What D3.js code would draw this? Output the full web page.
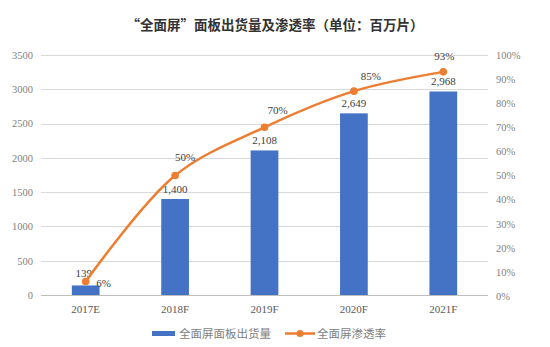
<!DOCTYPE html>
<html><head><meta charset="utf-8">
<script src="https://cdn.jsdelivr.net/npm/d3@7"></script>
<style>body{margin:0;background:#fff;}</style>
</head><body>
<svg id="c" width="550" height="347"></svg>
<script>
const categories = ["2017E","2018F","2019F","2020F","2021F"];
const shipments = [139, 1400, 2108, 2649, 2968];
const penetration = [0.06, 0.50, 0.70, 0.85, 0.93];
const leftTicks = [0,500,1000,1500,2000,2500,3000,3500];
const rightTicks = [0,0.1,0.2,0.3,0.4,0.5,0.6,0.7,0.8,0.9,1.0];
const title = "“全面屏”面板出货量及渗透率（单位：百万片）";
const seriesNames = ["全面屏面板出货量","全面屏渗透率"];

const svg = d3.select("#c");
const serif = "'Liberation Serif','Times New Roman',serif";
const cjk = "'Noto Sans CJK SC',sans-serif";
const m = {l:41, r:488, t:55, b:295};
const x = d3.scaleBand().domain(categories).range([m.l, m.r]).paddingInner(0.69).paddingOuter(0.345);
const y = d3.scaleLinear().domain([0,3500]).range([m.b, m.t]);
const y2 = d3.scaleLinear().domain([0,1]).range([m.b+1, m.t]);

svg.append("text").attr("x",275).attr("y",30).attr("text-anchor","middle")
  .attr("font-family",cjk).attr("font-weight","bold").attr("font-size",13.5).attr("fill","#333")
  .text(title);

// gridlines
svg.append("g").selectAll("line").data(leftTicks).join("line")
  .attr("x1",m.l).attr("x2",m.r).attr("y1",d=>Math.round(y(d))+0.5).attr("y2",d=>Math.round(y(d))+0.5)
  .attr("stroke",d=>d===0?"#bfbfbf":"#d9d9d9").attr("stroke-width",1);

// left axis
const la = svg.append("g").attr("transform",`translate(${m.l-8},0)`)
  .call(d3.axisLeft(y).tickValues(leftTicks).tickSize(0).tickPadding(0).tickFormat(d3.format("d")));
la.select(".domain").remove();
la.selectAll("text").attr("font-family",serif).attr("font-size",10.5).attr("fill","#7f7f7f");

// right axis
const ra = svg.append("g").attr("transform",`translate(${m.r+8},0)`)
  .call(d3.axisRight(y2).tickValues(rightTicks).tickSize(0).tickPadding(0).tickFormat(d3.format(".0%")));
ra.select(".domain").remove();
ra.selectAll("text").attr("font-family",serif).attr("font-size",10.5).attr("fill","#7f7f7f");

// bottom axis
const ba = svg.append("g").attr("transform",`translate(0,${m.b})`)
  .call(d3.axisBottom(x).tickSize(0).tickPadding(10));
ba.select(".domain").remove();
ba.selectAll("text").attr("font-family",serif).attr("font-size",11).attr("fill","#595959");

// bars
svg.append("g").selectAll("rect").data(shipments).join("rect")
  .attr("x",(d,i)=>x(categories[i])).attr("width",x.bandwidth())
  .attr("y",d=>y(d)).attr("height",d=>y(0)-y(d)).attr("fill","#4472C4");

// bar labels
const fmt = d3.format(",");
svg.append("g").selectAll("text").data(shipments).join("text")
  .attr("x",(d,i)=>x(categories[i])+x.bandwidth()/2 - (i===0?2:0))
  .attr("y",(d,i)=>y(d)-(i===0?8:6)).attr("text-anchor","middle")
  .attr("font-family",serif).attr("font-size",11).attr("fill","#404040")
  .text(d=>fmt(d));

// line
const cx = i => x(categories[i])+x.bandwidth()/2;
const line = d3.line().x((d,i)=>cx(i)).y(d=>y2(d)).curve(d3.curveCatmullRom.alpha(0.5));
svg.append("path").datum(penetration).attr("d",line)
  .attr("fill","none").attr("stroke","#ED7D31").attr("stroke-width",2.5);
svg.append("g").selectAll("circle").data(penetration).join("circle")
  .attr("cx",(d,i)=>cx(i)).attr("cy",d=>y2(d)).attr("r",3.8).attr("fill","#ED7D31");

// line labels
const lblDx = [18,10,13,17,1];
const lblDy = [5,-15,-13,-11,-12];
svg.append("g").selectAll("text").data(penetration).join("text")
  .attr("x",(d,i)=>cx(i)+lblDx[i]).attr("y",(d,i)=>y2(d)+lblDy[i]).attr("text-anchor","middle")
  .attr("font-family",serif).attr("font-size",11).attr("fill","#404040")
  .text(d=>d3.format(".0%")(d));

// legend
const lg = svg.append("g");
lg.append("rect").attr("x",152).attr("y",331).attr("width",23).attr("height",5).attr("fill","#4472C4");
lg.append("text").attr("x",179).attr("y",338).attr("font-family",cjk).attr("font-size",11.5).attr("fill","#7f7f7f").text(seriesNames[0]);
lg.append("line").attr("x1",285).attr("x2",315).attr("y1",333.5).attr("y2",333.5).attr("stroke","#ED7D31").attr("stroke-width",2.5);
lg.append("circle").attr("cx",300).attr("cy",333.5).attr("r",3.5).attr("fill","#ED7D31");
lg.append("text").attr("x",317).attr("y",338).attr("font-family",cjk).attr("font-size",11.5).attr("fill","#7f7f7f").text(seriesNames[1]);
</script>
</body></html>
